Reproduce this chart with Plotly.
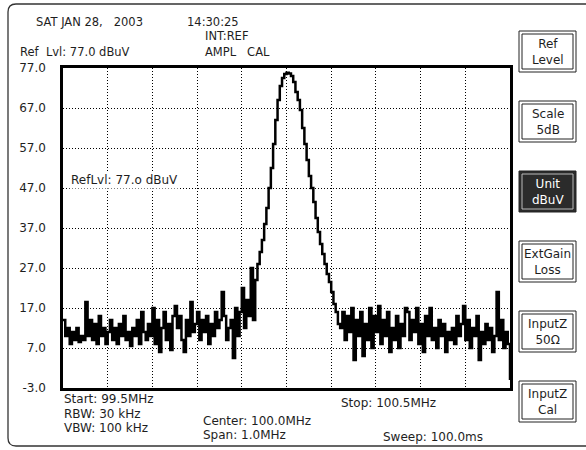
import numpy as np
import plotly.graph_objects as go

# sweep settings
START_MHZ = 99.5
STOP_MHZ = 100.5
REF_LEVEL = 77.0
BOTTOM_LEVEL = -3.0

# trace levels in dBuV, one per sweep point
level_dbuv = [
    14, 10, 12, 8, 11, 9, 12, 8.5, 10, 9,
    18.5, 10, 14, 9, 13, 8, 15, 10, 12, 8,
    11, 14, 9, 12, 8, 13, 10, 15, 9, 11,
    7.5, 12, 10, 14, 8, 16, 11, 9, 13, 10,
    17, 8, 14, 6, 12, 16, 9, 13, 6.5, 15,
    17.5, 12, 15, 9, 6, 14, 10, 18.5, 11, 13,
    16, 9, 14, 11, 15, 8, 13, 10, 16, 12,
    14, 21, 15, 9, 12, 14, 4.5, 17, 10, 16,
    22, 12, 19, 15, 27, 14, 24, 28, 31, 34,
    38, 42, 47, 52, 58, 64, 69, 72.5, 74.5, 75.5,
    75.8, 75.6, 75, 73.5, 71, 69, 66.5, 62, 58, 54,
    50, 47, 43.5, 39.5, 36, 33, 30.5, 28, 25.5, 23.5,
    21, 18, 16, 13, 12, 16, 9, 15, 11, 17,
    4, 14, 10, 16, 5, 13, 9, 17, 7, 15,
    11, 17.5, 8, 14, 10, 16, 6, 12, 9, 15,
    7, 13, 10, 17, 16, 9, 14, 11, 17, 8,
    13, 6, 15, 10, 17, 9, 12, 7, 14, 10,
    13, 6, 11, 9, 12, 8, 15, 10, 13, 17.5,
    9, 14, 7, 12, 10, 15, 4, 11, 8, 13,
    9, 12, 6, 10, 21, 9, 14, 7, 11, 8,
    -1,
]

level_ticks = [77.0, 67.0, 57.0, 47.0, 37.0, 27.0, 17.0, 7.0, -3.0]
freq_grid = [99.6, 99.7, 99.8, 99.9, 100.0, 100.1, 100.2, 100.3, 100.4]

buttons = [
    ("Ref<br>Level", False),
    ("Scale<br>5dB", False),
    ("Unit<br>dBuV", True),
    ("ExtGain<br>Loss", False),
    ("InputZ<br>50Ω", False),
    ("InputZ<br>Cal", False),
]

# plot area in window pixels
L, R, T, B = 63, 510, 68, 388
W, H = 586, 450


def px(x, y):
    # window pixel -> paper coords
    return (x - L) / (R - L), (B - y) / (B - T)


freq = np.linspace(START_MHZ, STOP_MHZ, len(level_dbuv))

fig = go.Figure()
fig.add_scatter(
    x=freq,
    y=level_dbuv,
    mode="lines",
    line=dict(color="black", width=2.5, shape="hv"),
    hoverinfo="skip",
)

ink = "#1e1e1e"
notes = [
    ("SAT JAN 28,   2003", 34, 22, 11.5),
    ("14:30:25", 185, 22, 11.5),
    ("INT:REF", 203, 36, 11.5),
    ("Ref  Lvl: 77.0 dBuV", 18, 52, 11.5),
    ("AMPL   CAL", 203, 52, 11.5),
    ("Start: 99.5MHz", 62, 399, 12),
    ("RBW: 30 kHz", 62, 414, 12),
    ("VBW: 100 kHz", 62, 428, 12),
    ("Center: 100.0MHz", 201, 421, 12),
    ("Span: 1.0MHz", 201, 435, 12),
    ("Stop: 100.5MHz", 339, 403, 12),
    ("Sweep: 100.0ms", 381, 437, 12),
]
for text, x, y, size in notes:
    ax, ay = px(x, y)
    fig.add_annotation(
        text=text, x=ax, y=ay, xref="paper", yref="paper",
        xanchor="left", yanchor="middle", showarrow=False,
        font=dict(size=size, color=ink),
    )

# marker readout inside the graticule, on a white patch
ax, ay = px(69, 180)
fig.add_annotation(
    text="RefLvl: 77.o dBuV", x=ax, y=ay, xref="paper", yref="paper",
    xanchor="left", yanchor="middle", showarrow=False,
    bgcolor="white", borderpad=1,
    font=dict(size=12, color=ink),
)

shapes = []
# outer rounded frame (right edge runs off the screen)
x0, y0 = px(8, 4)
x1, y1 = px(594, 446)
rx = 8 / (R - L)
ry = 8 / (B - T)
shapes.append(dict(
    type="path", xref="paper", yref="paper",
    path=(f"M {x0 + rx} {y0} L {x1 - rx} {y0} Q {x1} {y0} {x1} {y0 - ry} "
          f"L {x1} {y1 + ry} Q {x1} {y1} {x1 - rx} {y1} "
          f"L {x0 + rx} {y1} Q {x0} {y1} {x0} {y1 + ry} "
          f"L {x0} {y0 - ry} Q {x0} {y0} {x0 + rx} {y0} Z"),
    line=dict(color="#333333", width=1.3),
))

for k, (label, active) in enumerate(buttons):
    top = 31 + 70 * k
    bx0, by0 = px(519, top)
    bx1, by1 = px(576, top + 41)
    ix0, iy0 = px(522, top + 3)
    ix1, iy1 = px(573, top + 38)
    shapes.append(dict(
        type="rect", xref="paper", yref="paper",
        x0=bx0, y0=by0, x1=bx1, y1=by1,
        line=dict(color="#222222", width=1),
        fillcolor="#2b2b2b" if active else "white",
    ))
    shapes.append(dict(
        type="rect", xref="paper", yref="paper",
        x0=ix0, y0=iy0, x1=ix1, y1=iy1,
        line=dict(color="#bbbbbb" if active else "#222222", width=1),
    ))
    cx, cy = px(547.5, top + 20.5)
    fig.add_annotation(
        text=label, x=cx, y=cy, xref="paper", yref="paper",
        xanchor="center", yanchor="middle", showarrow=False,
        font=dict(size=12, color="white" if active else ink),
    )

fig.update_layout(
    width=W,
    height=H,
    margin=dict(l=L, r=W - R, t=T, b=H - B),
    paper_bgcolor="white",
    plot_bgcolor="white",
    showlegend=False,
    font=dict(family="DejaVu Sans", size=12, color=ink),
    shapes=shapes,
    xaxis=dict(
        range=[START_MHZ, STOP_MHZ],
        tickvals=freq_grid,
        showticklabels=False,
        ticks="",
        showgrid=True,
        gridcolor="black",
        griddash="1px,2px",
        gridwidth=1,
        zeroline=False,
        showline=True,
        mirror=True,
        linecolor="black",
        linewidth=2.5,
    ),
    yaxis=dict(
        range=[BOTTOM_LEVEL, REF_LEVEL],
        tickvals=level_ticks,
        ticktext=[f"{v:.1f}" for v in level_ticks],
        ticks="",
        ticklabelstandoff=12,
        showgrid=True,
        gridcolor="black",
        griddash="1px,2px",
        gridwidth=1,
        zeroline=False,
        showline=True,
        mirror=True,
        linecolor="black",
        linewidth=2.5,
    ),
)

fig.write_html(
    "out.html",
    config={"displayModeBar": False},
    post_script="document.body.style.margin='0';",
)
